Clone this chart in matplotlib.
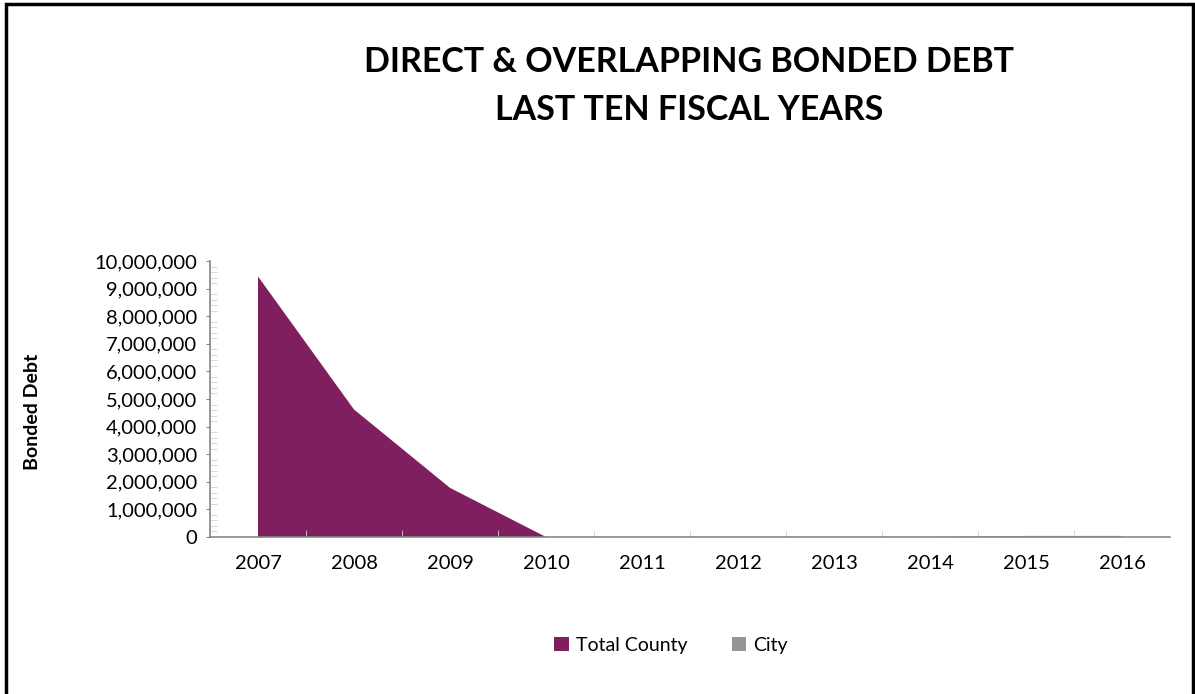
import matplotlib.pyplot as plt
from matplotlib.ticker import FuncFormatter, MultipleLocator
from matplotlib.patches import Rectangle

years = ["2007", "2008", "2009", "2010", "2011", "2012", "2013", "2014", "2015", "2016"]
total_county = [9440000, 4620000, 1780000, 0, 0, 0, 0, 0, 0, 0]
city = [0, 0, 0, 0, 0, 0, 0, 0, 40000, 40000]

plt.rcParams['font.family'] = ['Lato', 'DejaVu Sans']

fig = plt.figure(figsize=(11.95, 6.94), dpi=100)
ax = fig.add_axes([210 / 1195, 1 - 537 / 694, 960 / 1195, 276 / 694])

x = list(range(len(years)))
ax.stackplot(x, total_county, city, colors=["#7F1F5F", "#969696"],
             labels=["Total County", "City"], linewidth=0)

ax.set_xlim(-0.5, len(years) - 0.5)
ax.set_ylim(0, 10000000)
ax.set_xticks(x)
ax.set_xticklabels(years)
ax.set_xticks([i + 0.5 for i in x[:-1]], minor=True)
ax.yaxis.set_major_locator(MultipleLocator(1000000))
ax.yaxis.set_minor_locator(MultipleLocator(200000))
ax.yaxis.set_major_formatter(FuncFormatter(lambda v, p: f"{int(v):,}"))

for side in ["top", "right"]:
    ax.spines[side].set_visible(False)
for side in ["left", "bottom"]:
    ax.spines[side].set_color("#868686")
    ax.spines[side].set_linewidth(1.2)

ax.tick_params(axis="x", which="major", length=0, labelsize=14.5, pad=13)
ax.tick_params(axis="x", which="minor", direction="in", length=5, color="#d0d0d0")
ax.tick_params(axis="y", which="major", direction="out", length=3, color="#868686",
               labelsize=14.5, pad=6)
ax.tick_params(axis="y", which="minor", direction="in", length=5, color="#d0d0d0")

fig.text(33 / 1195, 1 - 412 / 694, "Bonded Debt", rotation=90, ha="center", va="center",
         fontsize=14, fontweight="bold")
fig.text(689 / 1195, 1 - 62 / 694, "DIRECT & OVERLAPPING BONDED DEBT", ha="center",
         va="center", fontsize=24.5, fontweight="bold")
fig.text(689 / 1195, 1 - 110 / 694, "LAST TEN FISCAL YEARS", ha="center", va="center",
         fontsize=24.5, fontweight="bold")

fig.legend(loc="center", bbox_to_anchor=(671 / 1195, 1 - 645 / 694), ncol=2, frameon=False,
           fontsize=14, handlelength=0.75, handleheight=0.75, columnspacing=2.3,
           handletextpad=0.35)

fig.patches.append(Rectangle((6 / 1195, -0.05), 1187 / 1195, 1.05 - 4 / 694,
                             transform=fig.transFigure, fill=False, edgecolor="black",
                             linewidth=2.5))

fig.savefig("out.png", dpi=100)
